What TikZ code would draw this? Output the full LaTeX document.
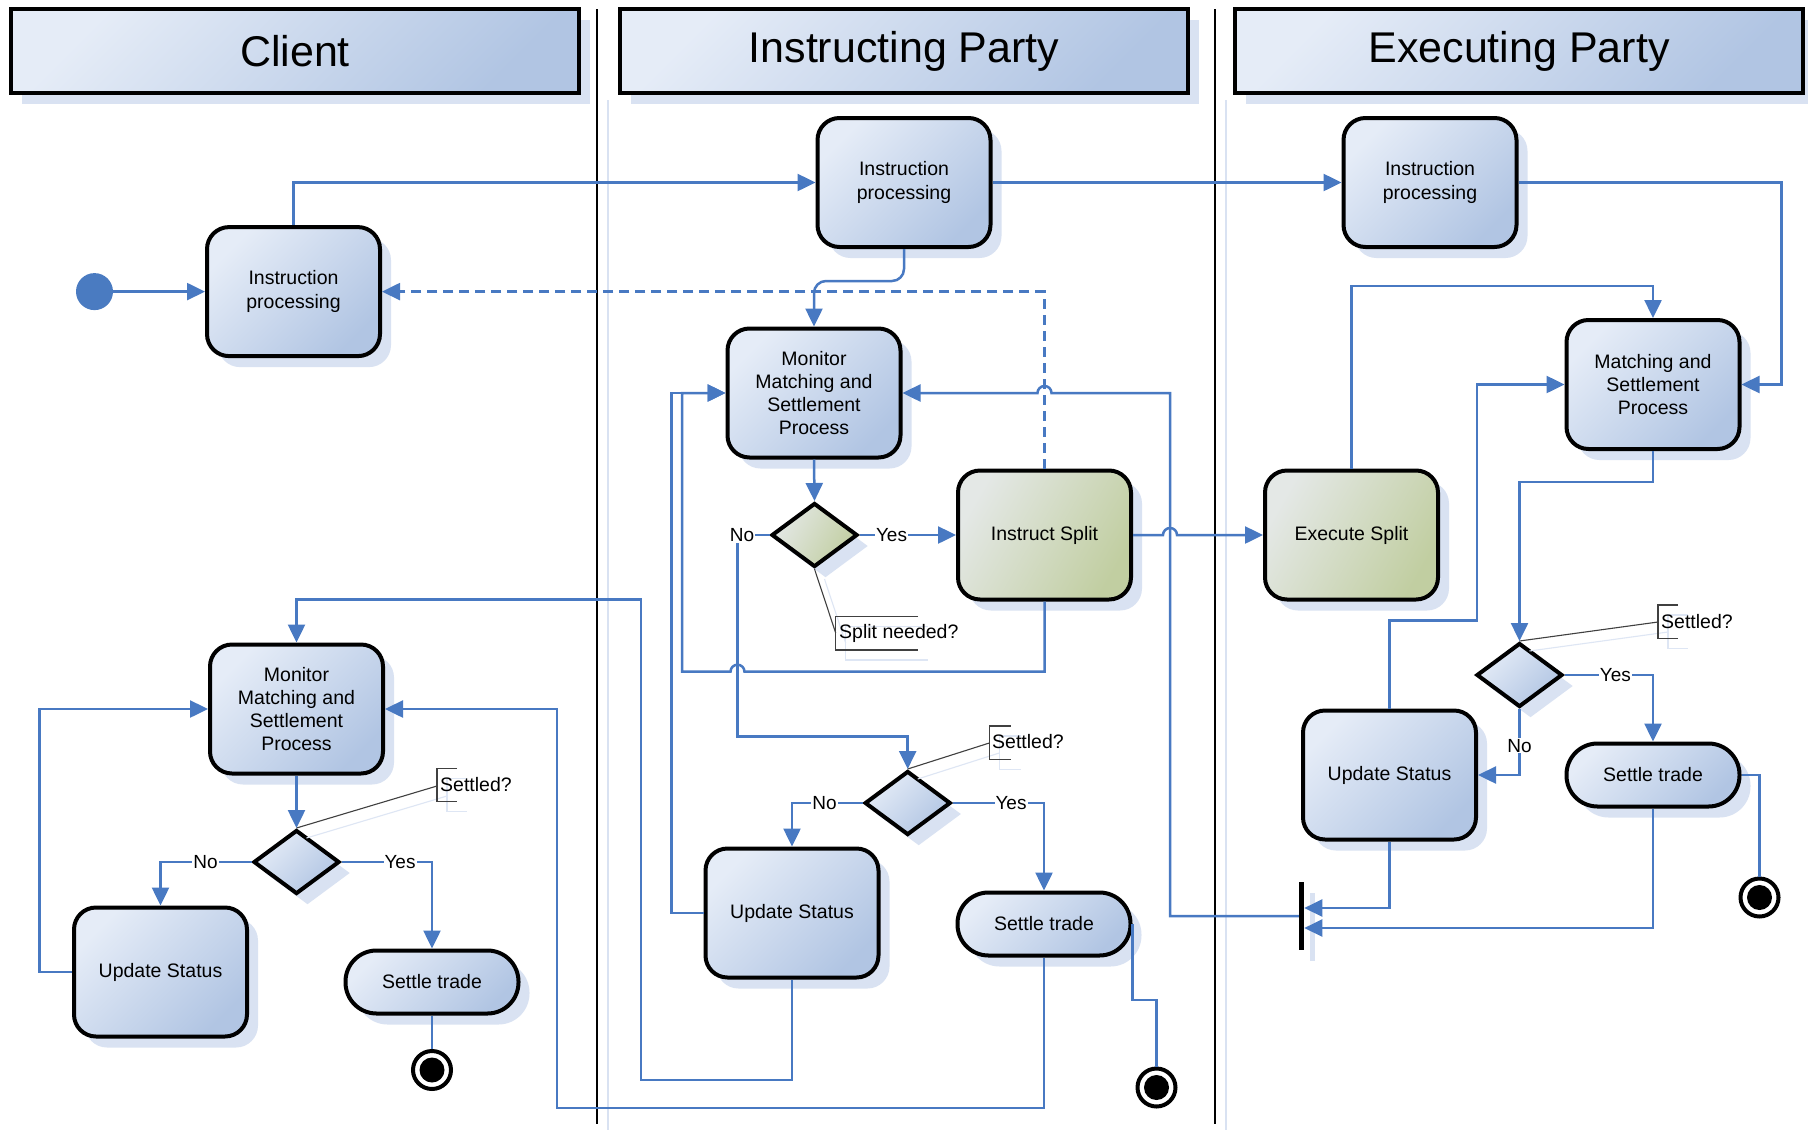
\documentclass[tikz,border=0pt]{standalone}
\usepackage{fontspec}
\setmainfont{Liberation Sans}
\usetikzlibrary{arrows.meta,shapes.geometric,shadows}
\definecolor{lineblue}{RGB}{72,121,194}
\definecolor{startc}{RGB}{74,123,193}
\definecolor{bL}{RGB}{229,236,247}
\definecolor{bD}{RGB}{177,197,227}
\definecolor{gL}{RGB}{228,232,230}
\definecolor{gD}{RGB}{193,206,161}
\definecolor{shd}{RGB}{217,226,242}
\definecolor{cshd}{RGB}{222,230,244}
\begin{document}
\begin{tikzpicture}[x=1pt,y=-1pt,
  conn/.style={draw=lineblue, line width=2.5pt, -{Triangle[length=18pt,width=17pt]}},
  plain/.style={draw=lineblue, line width=2.5pt},
  shdw/.style={drop shadow={shadow xshift=11pt, shadow yshift=-11pt, fill=shd, opacity=1}},
  bluefill/.style={top color=bL, bottom color=bD, shading angle=45},
  greenfill/.style={top color=gL, bottom color=gD, shading angle=60},
  lane/.style={rectangle, draw=black, line width=4pt, bluefill, shdw, minimum width=568pt, minimum height=84pt, inner sep=0pt, font=\fontsize{43pt}{50pt}\selectfont},
  act/.style={rectangle, rounded corners=22pt, draw=black, line width=4pt, bluefill, shdw, minimum width=173pt, minimum height=129pt, inner sep=2pt, align=center, font=\fontsize{19.5pt}{23.3pt}\selectfont},
  actg/.style={act, greenfill},
  stad/.style={act, rounded corners=31pt, minimum height=63pt},
  dec/.style={diamond, draw=black, line width=4pt, bluefill, shdw, minimum width=86pt, minimum height=64pt, inner sep=0pt},
  decg/.style={dec, greenfill},
  endn/.style={circle, draw=black, line width=4pt, fill=white, minimum size=38pt, inner sep=0pt},
  lbl/.style={fill=white, inner sep=1pt, font=\fontsize{19pt}{22pt}\selectfont},
  callt/.style={inner sep=1pt, anchor=west, font=\fontsize{19.5pt}{22pt}\selectfont},
  callline/.style={draw=black!75, line width=1.1pt},
  callshd/.style={draw=cshd, line width=1.1pt}
]
\useasboundingbox (0,0) rectangle (1808,1133);
\fill[white] (0,0) rectangle (1808,1133);

% lane separators
\draw[shd, line width=1.5pt] (608,100) -- (608,1130);
\draw[shd, line width=1.5pt] (1226,100) -- (1226,1130);
\draw[black, line width=1.6pt] (597,9) -- (597,1124);
\draw[black, line width=1.6pt] (1215,9) -- (1215,1124);

% headers
\node[lane] (hC) at (295,51) {Client};
\node[lane] (hI) at (904,51) {Instructing Party};
\node[lane] (hE) at (1519,51) {Executing Party};

% client lane
\node[circle, fill=startc, minimum size=37pt, inner sep=0pt] (S) at (94.5,291.6) {};
\node[act] (IP1) at (293.5,291.6) {Instruction\\processing};
\node[act] (MM1) at (296.5,709) {Monitor\\Matching and\\Settlement\\Process};
\node[dec] (D1) at (296.5,862) {};
\node[act] (US1) at (160.5,972) {Update Status};
\node[stad] (ST1) at (432,982) {Settle trade};
\node[endn] (E1) at (432,1070) {};
\fill[black] (E1.center) circle[radius=12.5pt];

% instructing lane
\node[act] (IP2) at (904,182.5) {Instruction\\processing};
\node[act] (MM2) at (814,393) {Monitor\\Matching and\\Settlement\\Process};
\node[decg] (D2) at (814.5,535) {};
\node[actg] (IS) at (1044.5,535) {Instruct Split};
\node[dec] (D3) at (907.7,803) {};
\node[act] (US2) at (792,913) {Update Status};
\node[stad] (ST2) at (1044,924) {Settle trade};
\node[endn] (E2) at (1156.5,1087.5) {};
\fill[black] (E2.center) circle[radius=12.5pt];

% executing lane
\node[act] (IP3) at (1430,182.5) {Instruction\\processing};
\node[act] (MS3) at (1653,384.5) {Matching and\\Settlement\\Process};
\node[actg] (ES) at (1351.5,535) {Execute Split};
\node[dec] (D4) at (1519.5,675) {};
\node[act] (US3) at (1389.5,775) {Update Status};
\node[stad] (ST3) at (1653,775) {Settle trade};
\node[endn] (E3) at (1759.5,897.5) {};
\fill[black] (E3.center) circle[radius=12.5pt];
\node[rectangle, fill=black, minimum width=5pt, minimum height=68pt, inner sep=0pt, shdw] (bar) at (1301.6,916) {};

% callouts
\draw[callshd] ([shift={(10pt,-10pt)}]D1.north) -- (447,796);
\draw[callshd] (467,778.7) -- (447,778.7) -- (447,811.5) -- (467,811.5);
\draw[callline] (D1.north) -- (437,786);
\draw[callline] (457,768.7) -- (437,768.7) -- (437,801.5) -- (457,801.5);
\node[callt] (c1) at (439,785) {Settled?};

\draw[callshd] ([shift={(10pt,-10pt)}]D2.south) -- (845.7,643);
\draw[callshd] (928,626.7) -- (845.7,626.7) -- (845.7,660) -- (928,660);
\draw[callline] (D2.south) -- (835.7,633);
\draw[callline] (918,616.7) -- (835.7,616.7) -- (835.7,650) -- (918,650);
\node[callt] (c2) at (838,633) {Split needed?};

\draw[callshd] ([shift={(10pt,-10pt)}]D3.north) -- (999.3,753);
\draw[callshd] (1020.7,736) -- (999.3,736) -- (999.3,769.3) -- (1020.7,769.3);
\draw[callline] (D3.north) -- (989.3,743);
\draw[callline] (1010.7,726) -- (989.3,726) -- (989.3,759.3) -- (1010.7,759.3);
\node[callt] (c3) at (991,742) {Settled?};

\draw[callshd] ([shift={(10pt,-10pt)}]D4.north) -- (1668,632);
\draw[callshd] (1688,615) -- (1668,615) -- (1668,648.3) -- (1688,648.3);
\draw[callline] (D4.north) -- (1658,622);
\draw[callline] (1678,605) -- (1658,605) -- (1658,638.3) -- (1678,638.3);
\node[callt] (c4) at (1660,621.7) {Settled?};

% connectors: client
\draw[conn] (S.east) -- (IP1.west);
\draw[conn] (IP1.north) |- (IP2.west);
\draw[conn] (MM1.south) -- (D1.north);
\draw[conn] (D1.west) -| (US1.north);
\draw[conn] (D1.east) -| (ST1.north);
\draw[conn] (US1.west) -- (39.5,972) |- (MM1.west);
\draw[plain] (ST1.south) -- (E1.north);

% connectors: instructing
\draw[conn] (IP2.east) -- (IP3.west);
\draw[conn, rounded corners=12pt] (IP2.south) |- (814,281) -- (MM2.north);
\draw[conn, dash pattern=on 10pt off 6pt] (IS.north) |- (IP1.east);
\draw[conn] (MM2.south) -- (D2.north);
\draw[conn] (D2.east) -- (IS.west);
\draw[conn] (D2.west) -- (737.5,535) -- (737.5,736.7) -| (D3.north);
\draw[conn] (IS.east) -- (1163,535) arc[start angle=180, end angle=0, radius=7pt] -- (ES.west);
\draw[conn] (IS.south) -- (1044.5,671.7) -- (744.5,671.7) arc[start angle=0, end angle=180, radius=7pt] -- (682,671.7) |- (MM2.west);
\draw[conn] (US2.west) -- (671.5,913) |- (MM2.west);
\draw[conn] (D3.west) -| (US2.north);
\draw[conn] (D3.east) -| (ST2.north);
\draw[conn] (US2.south) -- (792,1080) -- (641,1080) -- (641,599.6) -| (MM1.north);
\draw[conn] (ST2.south) -- (1044,1108) -- (557,1108) |- (MM1.east);
\draw[plain] (ST2.east) -- ++(0,76) -| (E2.north);

% connectors: executing
\draw[conn] (IP3.east) -- (1781.6,182.5) |- (MS3.east);
\draw[conn] (ES.north) -- (1351.5,286) -| (MS3.north);
\draw[conn] (US3.north) -- (1389.5,620.7) -- (1477,620.7) |- (MS3.west);
\draw[conn] (MS3.south) -- (1653,482) -| (D4.north);
\draw[conn] (D4.east) -| (ST3.north);
\draw[conn] (D4.south) |- (US3.east);
\draw[plain] (ST3.east) -| (E3.north);
\draw[conn] (US3.south) |- ([yshift=8pt]bar.east);
\draw[conn] (ST3.south) |- ([yshift=-12pt]bar.east);
\draw[conn] (bar.west) -- (1170,916) -- (1170,393) -- (1051.5,393) arc[start angle=0, end angle=180, radius=7pt] -- (MM2.east);

% labels
\node[lbl] (l1n) at (205.6,862) {No};
\node[lbl] (l1y) at (400,862) {Yes};
\node[lbl] (l2n) at (742,535) {No};
\node[lbl] (l2y) at (891.5,535) {Yes};
\node[lbl] (l3n) at (824.5,803) {No};
\node[lbl] (l3y) at (1011,803) {Yes};
\node[lbl] (l4y) at (1615.3,675) {Yes};
\node[lbl] (l4n) at (1519.5,745.7) {No};
\end{tikzpicture}
\end{document}
